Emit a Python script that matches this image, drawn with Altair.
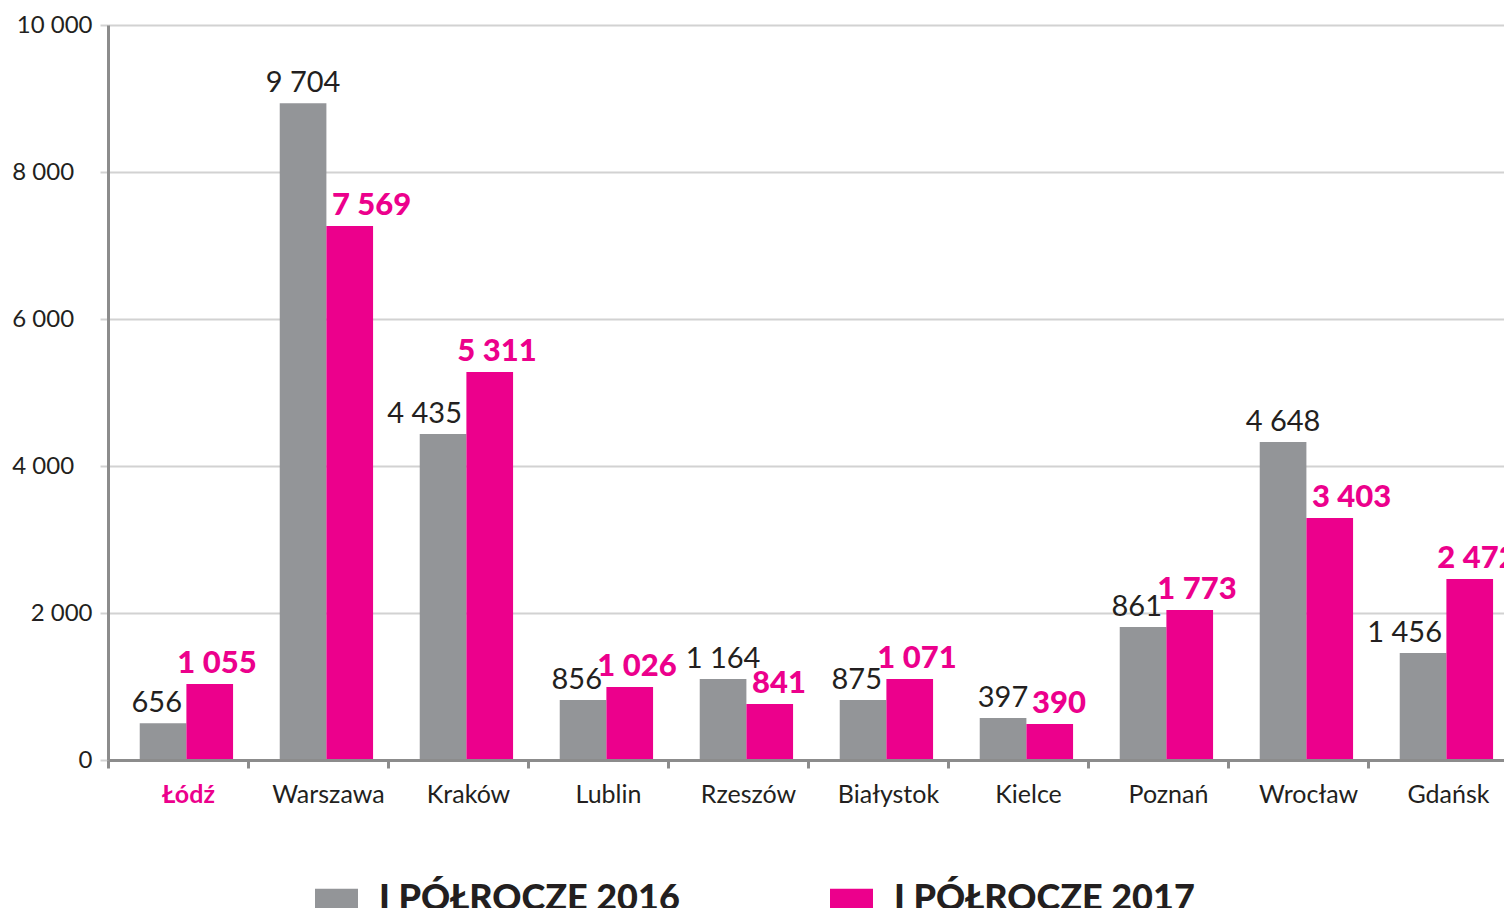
import altair as alt
import pandas as pd

cities = ["Łódź", "Warszawa", "Kraków", "Lublin", "Rzeszów",
          "Białystok", "Kielce", "Poznań", "Wrocław", "Gdańsk"]
series = ["I PÓŁROCZE 2016", "I PÓŁROCZE 2017"]
values_2016 = [500, 8935, 4435, 816, 1102, 816, 571, 1810, 4327, 1456]
values_2017 = [1034, 7265, 5279, 993, 762, 1102, 490, 2041, 3293, 2463]
labels_2016 = ["656", "9 704", "4 435", "856", "1 164", "875", "397", "861", "4 648", "1 456"]
labels_2017 = ["1 055", "7 569", "5 311", "1 026", "841", "1 071", "390", "1 773", "3 403", "2 472"]
y_ticks = [0, 2000, 4000, 6000, 8000, 10000]
colors = ["#939598", "#EC008C"]

rows = []
for i, c in enumerate(cities):
    rows.append({"city": c, "series": series[0], "value": values_2016[i], "label": labels_2016[i]})
    rows.append({"city": c, "series": series[1], "value": values_2017[i], "label": labels_2017[i]})
df = pd.DataFrame(rows)

FONT = "Lato"
TEXT = "#231F20"
PINK = "#EC008C"

x_enc = alt.X(
    "city:N", sort=cities, title=None,
    scale=alt.Scale(paddingInner=0, paddingOuter=0),
    axis=alt.Axis(
        labelAngle=0, tickBand="extent", grid=False, zindex=1,
        domainColor="#8C8C8C", domainWidth=3,
        tickColor="#8C8C8C", tickWidth=3, tickSize=8,
        labelFont=FONT, labelFontSize=25, labelPadding=14, labelOffset=10,
        labelColor=alt.ExprRef(expr=f"datum.value == '{cities[0]}' ? '{PINK}' : '{TEXT}'"),
        labelFontWeight=alt.ExprRef(expr=f"datum.value == '{cities[0]}' ? 'bold' : 'normal'"),
    ),
)
PAD = "\u00a0\u00a0\u00a0\u200b"
y_enc = alt.Y(
    "value:Q", title=None,
    scale=alt.Scale(domain=[0, 10000], nice=False),
    axis=alt.Axis(
        values=y_ticks,
        labelExpr="(datum.value >= 4000 && datum.value <= 8000) ? "
                  f"replace(format(datum.value, ','), ',', ' ') + '{PAD}' : "
                  "replace(format(datum.value, ','), ',', ' ')",
        grid=True, gridColor="#D2D2D2", gridWidth=2,
        domainColor="#8C8C8C", domainWidth=3,
        tickColor="#D2D2D2", tickWidth=2, tickSize=8,
        labelFont=FONT, labelFontSize=24, labelPadding=8, labelColor=TEXT,
    ),
)

base = alt.Chart(df).transform_joinaggregate(maxv="max(value)", groupby=["city"])

bars = base.mark_bar().encode(
    x=x_enc,
    xOffset=alt.XOffset("series:N", sort=series,
                        scale=alt.Scale(paddingInner=0, paddingOuter=0.5, align=0.68)),
    y=y_enc,
    color=alt.Color(
        "series:N",
        scale=alt.Scale(domain=series, range=colors),
        legend=alt.Legend(
            title=None, orient="none", legendX=207, legendY=852,
            direction="horizontal",
            symbolType="M-1,-0.465H1V0.465H-1Z", symbolSize=1849,
            symbolStrokeWidth=0, symbolOpacity=1,
            labelFont=FONT, labelFontSize=36, labelFontWeight=900,
            labelColor=TEXT, labelLimit=600, labelOffset=21,
            columnPadding=150, padding=0,
        ),
    ),
)

enc = dict(x=alt.X("city:N", sort=cities), y="value:Q", text="label:N")
is_a = alt.datum.series == series[0]
is_b = alt.datum.series == series[1]
tallest = alt.datum.value == alt.datum.maxv

gray_style = dict(baseline="alphabetic", dy=-11, font=FONT, fontSize=29, color=TEXT)
pink_style = dict(baseline="alphabetic", dy=-11, font=FONT, fontSize=31,
                  fontWeight=900, color=PINK)

gray_center = base.transform_filter(is_a & tallest).mark_text(
    align="center", dx=-15, **gray_style).encode(**enc)
gray_right = base.transform_filter(is_a & ~tallest).mark_text(
    align="right", dx=4, **gray_style).encode(**enc)
pink_center = base.transform_filter(is_b & tallest).mark_text(
    align="center", dx=39, **pink_style).encode(**enc)
pink_left = base.transform_filter(is_b & ~tallest).mark_text(
    align="left", dx=14, **pink_style).encode(**enc)

chart = alt.layer(bars, gray_center, gray_right, pink_center, pink_left).properties(
    width=1400, height=735,
    autosize=alt.AutoSizeParams(type="none"),
    padding={"left": 100, "top": 17, "right": -4, "bottom": 148},
    background="white",
).configure_view(stroke=None)

chart.save("out.html", embed_options={"renderer": "svg", "actions": False})
